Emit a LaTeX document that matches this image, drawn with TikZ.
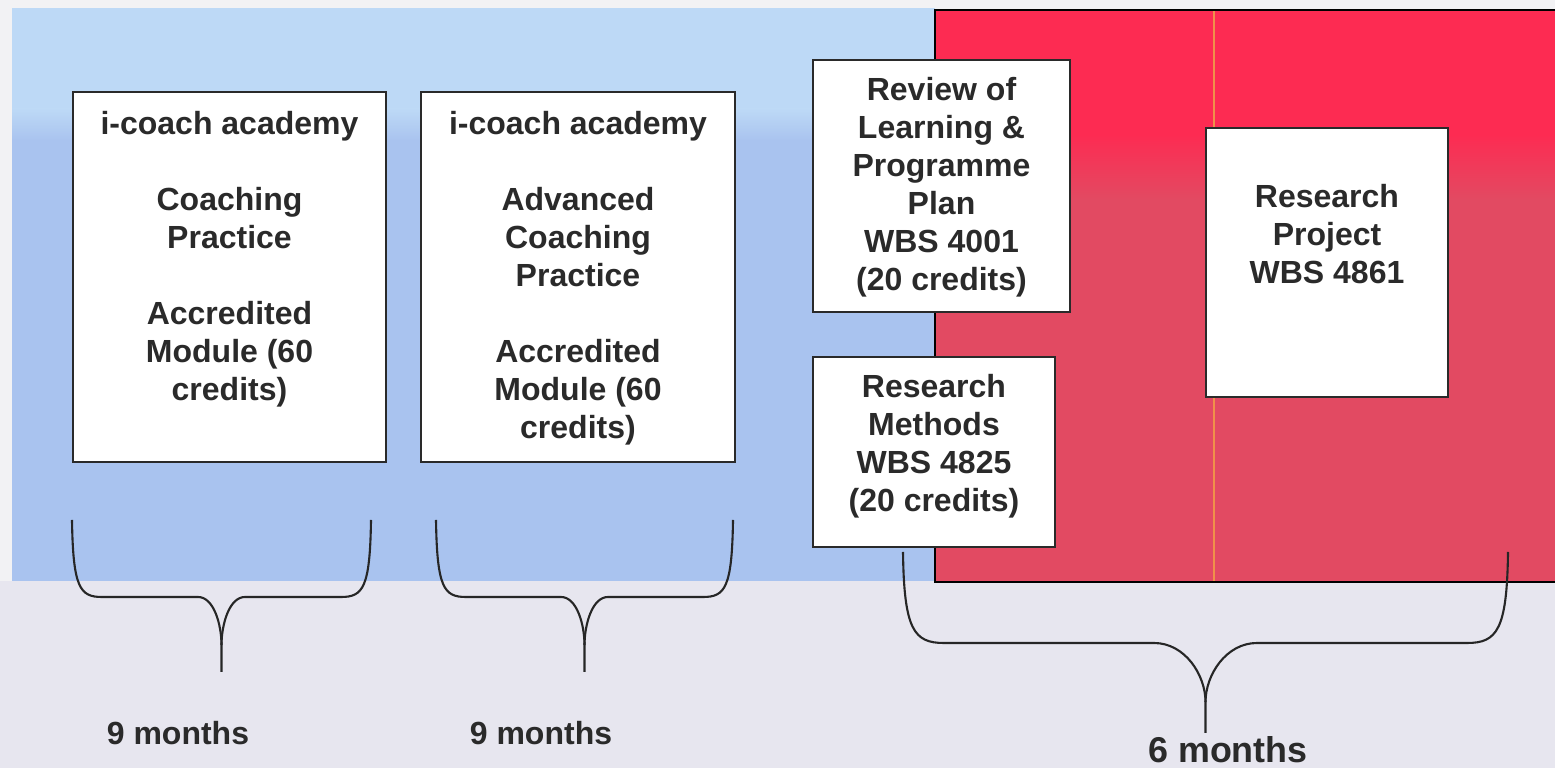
\documentclass[tikz,border=0pt]{standalone}
\usepackage{fontspec}
\setmainfont{Liberation Sans}
\definecolor{bggray}{HTML}{E7E6EF}
\definecolor{edgewhite}{HTML}{F2F2F4}
\definecolor{bluetop}{HTML}{BDD9F6}
\definecolor{bluebot}{HTML}{A9C3EF}
\definecolor{redtop}{HTML}{FD2B52}
\definecolor{redbot}{HTML}{E24A62}
\definecolor{inkc}{HTML}{2A2A2A}
\definecolor{orangeline}{HTML}{F0904A}
\tikzset{
  modbox/.style={draw=inkc, line width=0.6pt, fill=white, inner sep=0pt},
  modtext/.style={anchor=north, align=center, inner sep=0pt, text=inkc,
    font=\fontsize{9.1pt}{10.81pt}\selectfont\bfseries},
  durtext/.style={anchor=base, inner sep=0pt, text=inkc,
    font=\fontsize{9.1pt}{10.81pt}\selectfont\bfseries},
  bigdur/.style={anchor=base, inner sep=0pt, text=inkc,
    font=\fontsize{10.2pt}{12pt}\selectfont\bfseries},
  bracepath/.style={draw=black!85, line width=0.6pt},
}
\begin{document}
\begin{tikzpicture}[x=0.01cm,y=-0.01cm]
\useasboundingbox (0,0) rectangle (1555,768);
% backgrounds
\fill[edgewhite] (0,0) rectangle (1555,768);
\fill[bggray] (0,581) rectangle (1555,768);
\fill[bluetop] (12,8) rectangle (935,110);
\shade[top color=bluetop, bottom color=bluebot] (12,109) rectangle (935,141);
\fill[bluebot] (12,140) rectangle (935,581);
\fill[redtop] (935,10) rectangle (1555,135);
\shade[top color=redtop, bottom color=redbot] (935,134) rectangle (1555,200);
\fill[redbot] (935,199) rectangle (1555,582);
\draw[orangeline, line width=0.3pt] (1214,10) -- (1214,582);
\draw[black, line width=0.5pt] (1555,10) -- (935,10) -- (935,582) -- (1555,582);
% module boxes
\node[modbox, minimum width=3.13cm, minimum height=3.70cm] (b1) at (229.5,277) {};
\node[modbox, minimum width=3.14cm, minimum height=3.70cm] (b2) at (578,277) {};
\node[modbox, minimum width=2.57cm, minimum height=2.52cm] (b3) at (941.5,186) {};
\node[modbox, minimum width=2.42cm, minimum height=1.90cm] (b4) at (934,452) {};
\node[modbox, minimum width=2.42cm, minimum height=2.69cm] (b5) at (1327,262.5) {};
% texts
\node[modtext] (t1) at (229.5,111) {i-coach academy\\[10.81pt]Coaching\\Practice\\[10.81pt]Accredited\\Module (60\\credits)};
\node[modtext] (t2) at (578,111) {i-coach academy\\[10.81pt]Advanced\\Coaching\\Practice\\[10.81pt]Accredited\\Module (60\\credits)};
\node[modtext] (t3) at (941.5,77) {Review of\\Learning \&\\Programme\\Plan\\WBS 4001\\(20 credits)};
\node[modtext] (t4) at (934,374) {Research\\Methods\\WBS 4825\\(20 credits)};
\node[modtext] (t5) at (1327,184) {Research\\Project\\WBS 4861};
% braces
\draw[bracepath] (72,520) .. controls (73,588) and (80,597) .. (102,597) -- (198,597)
  .. controls (214,597) and (221.5,625) .. (221.5,645) -- (221.5,672);
\draw[bracepath] (371,520) .. controls (370,588) and (363,597) .. (341,597) -- (245,597)
  .. controls (229,597) and (221.5,625) .. (221.5,645);
\draw[bracepath] (436,520) .. controls (437,588) and (444,597) .. (466,597) -- (561,597)
  .. controls (577,597) and (584.5,625) .. (584.5,645) -- (584.5,672);
\draw[bracepath] (733,520) .. controls (732,588) and (725,597) .. (703,597) -- (608,597)
  .. controls (592,597) and (584.5,625) .. (584.5,645);
\draw[bracepath] (903,552) .. controls (904,630) and (914,643) .. (944,643) -- (1154,643)
  .. controls (1185,643) and (1205.5,675) .. (1205.5,702) -- (1205.5,733);
\draw[bracepath] (1508,552) .. controls (1507,630) and (1497,643) .. (1467,643) -- (1257,643)
  .. controls (1226,643) and (1205.5,675) .. (1205.5,702);
% durations
\node[durtext] (d1) at (178,745) {9 months};
\node[durtext] (d2) at (541,745) {9 months};
\node[bigdur] (d3) at (1228,763) {6 months};
\end{tikzpicture}
\end{document}
